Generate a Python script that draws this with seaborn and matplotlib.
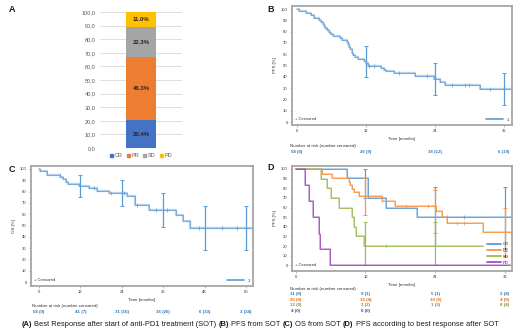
import numpy as np
import pandas as pd
import matplotlib
matplotlib.use("Agg")
import matplotlib.pyplot as plt
import seaborn as sns
from matplotlib.transforms import blended_transform_factory
from matplotlib.lines import Line2D
from matplotlib.patches import Patch

# ---------------- data ----------------
# Panel A: best response
resp_cats = ["CR", "PR", "SD", "PD"]
resp_pct = [20.4, 46.3, 22.3, 11.0]
resp_colors = ["#4472C4", "#ED7D31", "#A5A5A5", "#FFC000"]
resp_ticks = [0, 10, 20, 30, 40, 50, 60, 70, 80, 90, 100]

# Panel B: PFS from SOT
pfs_t = [0, 0.35, 1.6, 2.5, 2.9, 3.9, 4.2, 4.5, 4.7, 4.9, 5.2, 5.5, 5.7, 5.9, 6.2,
         7.4, 7.9, 8.7, 8.9, 9.0, 9.3, 9.6, 9.8, 10.1, 10.6, 11.6, 12.0, 12.3,
         14.6, 15.2, 15.5, 16.9, 20.5, 23.8, 24.8, 25.7, 31.8]
pfs_s = [100, 98.3, 96.6, 94.8, 92.1, 90.3, 88.6, 86.9, 85.2, 83.5, 81.8, 80.1, 78.4, 77.5, 76.4,
         74.6, 72.8, 71.0, 69.2, 66.4, 64.6, 61.4, 59.6, 57.9, 56.0, 54.3, 52.6, 50.0,
         47.6, 46.3, 45.0, 43.2, 41.0, 38.2, 35.8, 33.1, 29.0]
pfs_end = 37.5
pfs_cens = [12.6, 13.4, 17.8, 22.7, 27.0, 29.2, 30.0, 33.5]
pfs_ci_t = [12, 24, 36]
pfs_ci_mid = [53, 38, 29]
pfs_ci_lo = [40, 24, 15]
pfs_ci_hi = [67, 52, 43]
pfs_risk = ["58 (0)", "26 (9)", "16 (12)", "6 (19)"]
pfs_xticks = [0, 12, 24, 36]

# Panel C: OS from SOT
os_t = [0, 0.3, 2.4, 6.1, 7.1, 7.8, 8.3, 11.7, 14.6, 16.9, 20.4, 25.5, 27.7, 31.8, 39.8, 41.7, 43.7]
os_s = [100, 98.3, 94.8, 93.0, 91.2, 88.5, 86.8, 84.9, 82.9, 80.9, 78.6, 76.0, 67.8, 64.0, 59.0, 53.6, 47.6]
os_end = 62.2
os_cens = [6.0, 16.0, 21.0, 24.5, 28.5, 34.0, 37.0, 46.5, 53.0, 57.5]
os_ci_t = [12, 24, 36, 48, 60]
os_ci_mid = [85, 79, 64, 48, 48]
os_ci_lo = [75, 67, 49, 28, 28]
os_ci_hi = [95, 90, 79, 67, 67]
os_risk = ["58 (0)", "41 (7)", "31 (16)", "16 (26)", "6 (33)", "3 (34)"]
os_xticks = [0, 12, 24, 36, 48, 60]

# Panel D: PFS by best response
grp_names = ["CR", "PR", "SD", "PD"]
grp_colors = ["#5B9BD5", "#F79646", "#9BBB59", "#A24DBE"]
grp_text_colors = ["#2E75B6", "#E46C0A", "#76923C", "#7030A0"]
cr_t = [0, 8.9, 12.4, 15.5, 20.8]
cr_s = [100, 91, 70, 60, 50]
pr_t = [0, 4.6, 6.3, 9.2, 9.4, 9.7, 10.0, 10.8, 14.8, 17.0, 24.2, 25.2, 26.0, 32.2]
pr_s = [100, 95, 91, 87, 83, 79, 76, 72, 67, 62, 56, 50, 44, 35]
sd_t = [0, 4.4, 5.3, 6.1, 7.5, 9.6, 10.0, 10.3, 11.8]
sd_s = [100, 90, 80, 70, 60, 50, 40, 30, 20]
pd_t = [0, 1.6, 2.35, 3.0, 4.0, 4.2, 5.9]
pd_s = [100, 83, 67, 50, 33, 17, 0]
grp_t = [cr_t, pr_t, sd_t, pd_t]
grp_s = [cr_s, pr_s, sd_s, pd_s]
grp_end = [37.2, 37.2, 32.2, 36.9]
grp_cens = [[26.0, 29.0], [19.0, 22.8, 27.8, 29.0], [15.6], []]
grp_ci_t = [[12, 24, 36], [12, 24, 36], [12, 24], []]
grp_ci_mid = [[91, 50, 50], [72, 62, 35], [20, 20], []]
grp_ci_lo = [[70, 20, 15], [52, 34, 10], [0, 0], []]
grp_ci_hi = [[100, 81, 81], [91, 78, 59], [45, 45], []]
grp_risk = [["11 (0)", "9 (1)", "5 (1)", "2 (4)"],
            ["25 (0)", "15 (4)", "10 (6)", "4 (9)"],
            ["12 (0)", "2 (2)", "1 (3)", "0 (4)"],
            ["4 (0)", "0 (0)"]]
d_xticks = [0, 12, 24, 36]

caption_parts = [("(A)", True), ("Best Response after start of anti-PD1 treatment (SOT)", False),
                 ("(B)", True), ("PFS from SOT", False), ("(C)", True), ("OS from SOT", False),
                 ("(D)", True), ("PFS according to best response after SOT", False)]

# ---------------- style ----------------
sns.set_theme(style="white")
plt.rcParams["font.family"] = ["Liberation Sans", "DejaVu Sans"]

W, H = 520, 336
fig = plt.figure(figsize=(W / 100, H / 100), dpi=100)


def ax_px(l, t, r, b):
    return fig.add_axes([l / W, 1 - b / H, (r - l) / W, (b - t) / H])


TICK_FS = 3.0
LBL_FS = 3.2
FRAME = "#A6A6A6"


def km(ax, t, s, end, color, cens, ci_t, ci_mid, ci_lo, ci_hi, lw_under=1.6, lw_top=0.5):
    xs = list(t) + [end]
    ys = list(s) + [s[-1]]
    df = pd.DataFrame({"t": xs, "s": ys})
    sns.lineplot(data=df, x="t", y="s", drawstyle="steps-post", estimator=None, sort=False,
                 color=color, lw=lw_under, alpha=0.45, ax=ax, legend=False)
    sns.lineplot(data=df, x="t", y="s", drawstyle="steps-post", estimator=None, sort=False,
                 color=color, lw=lw_top, ax=ax, legend=False)
    if cens:
        idx = np.searchsorted(np.array(t), np.array(cens), side="right") - 1
        ax.plot(cens, np.array(s)[idx], ls="none", marker="|", ms=2.2, mew=0.5, color=color)
    if ci_t:
        mid = np.array(ci_mid)
        ax.errorbar(ci_t, mid, yerr=[mid - np.array(ci_lo), np.array(ci_hi) - mid], fmt="none",
                    ecolor=color, elinewidth=0.9, capsize=1.3, capthick=0.7)


def style_km(ax, xlim, ylim, xticks, ylabel):
    ax.set_xlim(*xlim)
    ax.set_ylim(*ylim)
    ax.set_xticks(xticks)
    ax.set_yticks(range(0, 101, 10))
    for sp in ax.spines.values():
        sp.set_color(FRAME)
        sp.set_linewidth(1.3)
    ax.tick_params(axis="both", labelsize=TICK_FS, length=1.6, width=0.4, color="#808080",
                   pad=1.5, direction="out", bottom=True, left=True, labelcolor="#333333")
    ax.set_xlabel("Time [months]", fontsize=LBL_FS, labelpad=3, color="#333333")
    ax.set_ylabel(ylabel, fontsize=LBL_FS, labelpad=3, color="#333333")
    ax.text(0.012, 0.035, "+ Censored", transform=ax.transAxes, fontsize=3, color="#333333",
            va="bottom", ha="left")


def risk_table(ax, ticks, rows, colors, y_title_px, y_rows_px, x_title_px):
    fig.text(x_title_px / W, 1 - y_title_px / H, "Number at risk (number censored)",
             fontsize=3.2, color="#333333", va="center", ha="left")
    tr = blended_transform_factory(ax.transData, fig.transFigure)
    for row, col, ypx in zip(rows, colors, y_rows_px):
        for x, lab in zip(ticks, row):
            ax.text(x, 1 - ypx / H, lab, transform=tr, fontsize=3.2, color=col,
                    ha="center", va="center", fontweight="semibold")


# ---------------- Panel A ----------------
axA = ax_px(100, 12, 182, 148)
cum = np.cumsum(resp_pct)
for i in reversed(range(len(resp_cats))):
    sns.barplot(x=[0], y=[cum[i]], color=resp_colors[i], width=0.8, linewidth=0,
                saturation=1, ax=axA)
axA.set_xlim(-1.06, 1.06)
axA.set_ylim(0, 100)
axA.set_yticks(resp_ticks)
axA.set_yticklabels([f"{v:.1f}".replace(".", ",") for v in resp_ticks])
axA.set_xticks([])
axA.set_xlabel("")
axA.set_ylabel("")
axA.yaxis.grid(True, color="#D9D9D9", lw=0.6)
axA.set_axisbelow(True)
for sp in axA.spines.values():
    sp.set_visible(False)
axA.tick_params(axis="y", labelsize=4, length=0, pad=3, labelcolor="#595959")
bottoms = np.concatenate([[0], cum[:-1]])
for b, v in zip(bottoms, resp_pct):
    axA.text(0, b + v / 2, f"{v:.1f}%", ha="center", va="center", fontsize=4.3,
             fontweight="bold", color="#262626")
axA.legend(handles=[Patch(color=c) for c in resp_colors], labels=resp_cats,
           loc="upper center", bbox_to_anchor=(0.5, -0.015), ncol=4, fontsize=4,
           frameon=False, handlelength=0.6, handleheight=0.6, handletextpad=0.3,
           columnspacing=0.7, borderpad=0.1, labelcolor="#595959")

# ---------------- Panel B ----------------
axB = ax_px(292, 6, 512, 125)
km(axB, pfs_t, pfs_s, pfs_end, "#5B9BD5", pfs_cens, pfs_ci_t, pfs_ci_mid, pfs_ci_lo, pfs_ci_hi)
style_km(axB, (-0.87, 37.4), (-2.65, 102.7), pfs_xticks, "PFS [%]")
axB.legend(handles=[Line2D([], [], color="#5B9BD5", lw=1.2)], labels=["1"], loc="lower right",
           fontsize=3, frameon=False, handlelength=4, borderpad=0.3, bbox_to_anchor=(1.0, 0.0))
risk_table(axB, pfs_xticks, [pfs_risk], ["#2E75B6"], 146, [152], 290)

# ---------------- Panel C ----------------
axC = ax_px(31, 166, 253, 286)
km(axC, os_t, os_s, os_end, "#5B9BD5", os_cens, os_ci_t, os_ci_mid, os_ci_lo, os_ci_hi)
style_km(axC, (-2.3, 62.0), (-3.5, 102.65), os_xticks, "OS [%]")
axC.legend(handles=[Line2D([], [], color="#5B9BD5", lw=1.2)], labels=["1"], loc="lower right",
           fontsize=3, frameon=False, handlelength=4, borderpad=0.3, bbox_to_anchor=(1.0, 0.0))
risk_table(axC, os_xticks, [os_risk], ["#2E75B6"], 305.5, [311.7], 32)

# ---------------- Panel D ----------------
axD = ax_px(292, 166, 512, 271)
for i in range(4):
    km(axD, grp_t[i], grp_s[i], grp_end[i], grp_colors[i], grp_cens[i], grp_ci_t[i],
       grp_ci_mid[i], grp_ci_lo[i], grp_ci_hi[i], lw_under=1.4, lw_top=0.6)
style_km(axD, (-0.64, 37.2), (-5.9, 103.1), d_xticks, "PFS [%]")
axD.legend(handles=[Line2D([], [], color=c, lw=1.3) for c in grp_colors], labels=grp_names,
           loc="lower right", bbox_to_anchor=(1.0, 0.03), fontsize=3, frameon=False,
           handlelength=3.2, labelspacing=0.55, borderpad=0.2, handletextpad=0.6)
risk_table(axD, d_xticks, grp_risk, grp_text_colors, 289, [294.3, 299.7, 305.2, 310.8], 290)

# ---------------- panel letters ----------------
for lab, x, y in [("A", 12, 10), ("B", 271, 9), ("C", 12, 169), ("D", 271, 168)]:
    fig.text(x / W, 1 - y / H, lab, fontsize=6.5, fontweight="bold", ha="center", va="center",
             color="#1a1a1a")

# ---------------- caption ----------------
fig.canvas.draw()
rend = fig.canvas.get_renderer()
CAP_FS = 5.4
probe = fig.text(0, 0, "a a", fontsize=CAP_FS)
probe2 = fig.text(0, 0, "aa", fontsize=CAP_FS)
space_w = probe.get_window_extent(rend).width - probe2.get_window_extent(rend).width
probe.remove()
probe2.remove()
texts = []
widths = []
for s, bold in caption_parts:
    t = fig.text(0, 1 - 325 / H, s, fontsize=CAP_FS, fontweight="bold" if bold else "normal",
                 va="center", ha="left", color="#1a1a1a")
    texts.append(t)
    widths.append(t.get_window_extent(rend).width)
total = sum(widths) + space_w * (len(texts) - 1)
x = (W - total) / 2
for t, w in zip(texts, widths):
    t.set_x(x / W)
    x += w + space_w

fig.savefig("out.png", dpi=100)
